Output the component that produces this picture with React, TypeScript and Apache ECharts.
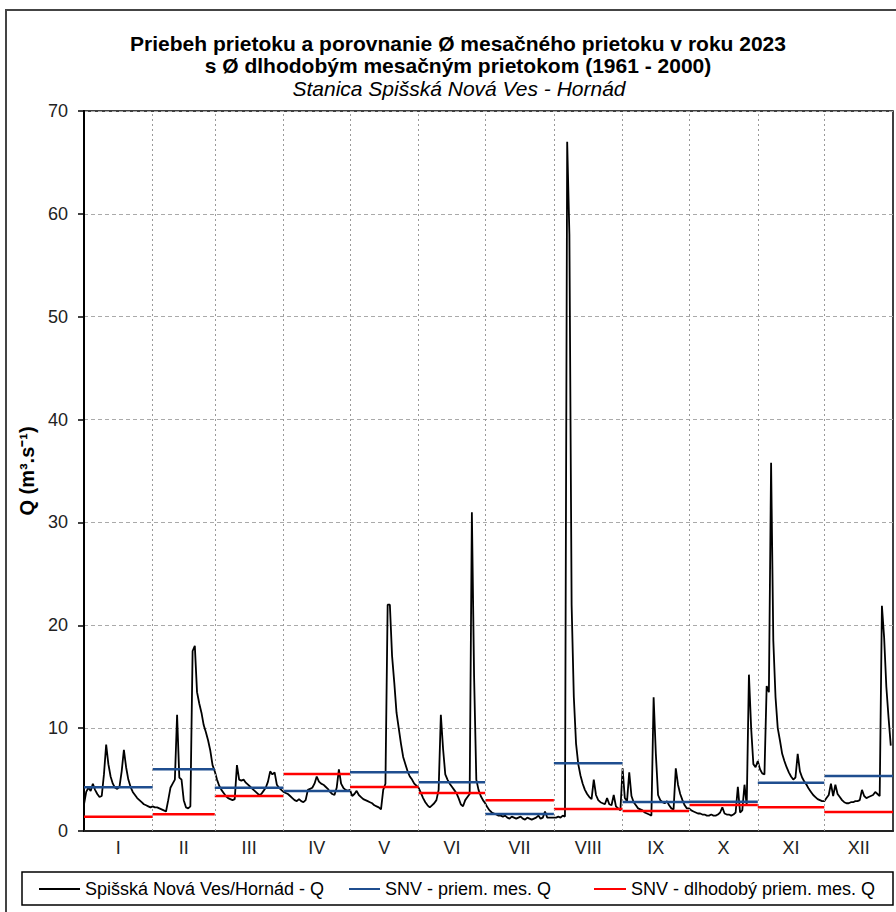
import React, { useEffect, useRef } from "react";
import * as echarts from "echarts";

const FONT = '"Liberation Sans", Arial, Helvetica, sans-serif';

const monthLabels = ["I", "II", "III", "IV", "V", "VI", "VII", "VIII", "IX", "X", "XI", "XII"];
const monthDays = [31, 28, 31, 30, 31, 30, 31, 31, 30, 31, 30, 31];

// Monthly mean discharge 2023 (blue) and long-term monthly mean 1961-2000 (red)
const meanMonthly2023 = [4.25, 6.0, 4.2, 3.9, 5.7, 4.75, 1.65, 6.58, 2.82, 2.85, 4.7, 5.35];
const longTermMonthly = [1.39, 1.62, 3.4, 5.54, 4.28, 3.69, 2.98, 2.14, 1.94, 2.53, 2.3, 1.85];

// Daily discharge Q (m3/s), 2023
const qJan = [2.6, 3.8, 4.2, 3.9, 4.6, 4.0, 3.6, 3.3, 3.4, 5.5, 8.4, 6.5, 5.3, 4.6, 4.2, 4.1, 4.3, 5.8, 7.9, 6.2, 5.0, 4.3, 3.8, 3.5, 3.2, 3.0, 2.8, 2.6, 2.5, 2.4, 2.3];
const qFeb = [2.4, 2.3, 2.3, 2.2, 2.1, 2.0, 1.9, 3.0, 4.2, 4.6, 5.0, 11.3, 5.2, 5.0, 3.0, 2.3, 2.2, 2.4, 17.5, 18.0, 13.5, 12.4, 11.5, 10.3, 9.6, 8.8, 7.8, 6.4];
const qMar = [5.8, 5.0, 4.4, 4.0, 3.7, 3.4, 3.2, 3.1, 3.0, 3.1, 6.4, 5.0, 4.9, 5.0, 4.7, 4.5, 4.3, 4.1, 3.9, 3.7, 3.5, 3.6, 3.9, 4.2, 4.8, 5.8, 5.5, 5.7, 4.5, 4.2, 4.0];
const qApr = [3.8, 3.7, 3.6, 3.4, 3.2, 3.0, 2.9, 3.1, 2.9, 2.8, 3.0, 4.0, 4.1, 4.2, 4.6, 5.3, 4.8, 4.6, 4.5, 4.3, 4.1, 3.8, 3.6, 3.5, 4.2, 6.0, 4.6, 4.2, 4.0, 3.9];
const qMay = [4.0, 3.4, 3.6, 3.9, 3.5, 3.3, 3.1, 3.0, 2.9, 2.8, 2.7, 2.5, 2.4, 2.3, 2.1, 4.0, 4.6, 22.0, 22.0, 17.0, 14.4, 11.5, 10.0, 8.5, 7.2, 6.5, 5.8, 5.3, 5.0, 4.6, 4.4];
const qJun = [4.2, 3.7, 3.2, 2.8, 2.5, 2.3, 2.5, 2.7, 3.0, 4.0, 11.3, 8.0, 5.5, 5.0, 4.6, 4.3, 4.0, 3.7, 3.2, 2.6, 2.4, 3.0, 3.3, 3.6, 31.0, 15.0, 5.0, 4.0, 3.4, 3.0];
const qJul = [2.7, 2.3, 2.0, 1.8, 1.7, 1.6, 1.5, 1.5, 1.4, 1.5, 1.3, 1.2, 1.4, 1.3, 1.2, 1.3, 1.4, 1.2, 1.1, 1.3, 1.2, 1.1, 1.2, 1.3, 1.5, 1.2, 1.3, 1.9, 1.3, 1.3, 1.3];
const qAug = [1.3, 1.3, 1.4, 1.3, 1.5, 1.4, 67.0, 58.0, 22.0, 13.0, 8.5, 6.5, 5.4, 4.6, 4.0, 3.6, 3.3, 3.1, 5.0, 3.5, 3.0, 2.8, 2.7, 2.6, 3.2, 2.6, 2.5, 3.5, 2.4, 2.2, 2.0];
const qSep = [6.1, 3.2, 2.9, 5.7, 3.4, 2.8, 2.5, 2.2, 2.1, 2.0, 1.8, 1.7, 1.6, 1.5, 13.0, 7.5, 3.5, 3.0, 2.8, 2.7, 2.9, 2.5, 2.2, 2.1, 6.1, 4.5, 3.6, 3.0, 2.5, 2.2];
const qOct = [2.2, 2.0, 1.9, 1.8, 1.7, 1.7, 1.6, 1.6, 1.5, 1.5, 1.6, 1.5, 1.5, 1.6, 1.8, 2.3, 1.7, 1.6, 1.6, 1.5, 1.6, 1.8, 4.3, 1.8, 2.0, 4.5, 2.5, 15.2, 10.0, 6.5, 6.2];
const qNov = [6.8, 6.0, 5.6, 5.5, 14.1, 13.5, 35.8, 18.5, 13.0, 10.0, 8.8, 7.5, 6.8, 6.2, 5.7, 5.3, 5.0, 5.2, 7.5, 5.8, 5.2, 4.8, 4.5, 4.1, 3.8, 3.5, 3.3, 3.1, 3.0, 2.9];
const qDec = [2.9, 3.2, 3.5, 4.6, 3.4, 4.5, 3.6, 3.3, 3.0, 2.8, 2.7, 2.7, 2.8, 2.8, 2.9, 2.9, 3.0, 4.0, 3.4, 3.2, 3.3, 3.4, 3.5, 3.8, 3.6, 3.4, 21.9, 18.8, 14.0, 11.0, 8.3];

const yMin = 0;
const yMax = 70;
const yInterval = 10;

const SERIES_Q = "Spišská Nová Ves/Hornád - Q";
const SERIES_MEAN = "SNV - priem. mes. Q";
const SERIES_LT = "SNV - dlhodobý priem. mes. Q";

const titleLine1 = "Priebeh prietoku a porovnanie Ø mesačného prietoku v roku 2023";
const titleLine2 = "s Ø dlhodobým mesačným prietokom (1961 - 2000)";
const titleLine3 = "Stanica Spišská Nová Ves - Hornád";
const yAxisName = "Q (m³.s⁻¹)";

export default function App() {
  const ref = useRef<HTMLDivElement>(null);

  useEffect(() => {
    if (!ref.current) return;
    const chart = echarts.init(ref.current, null, { renderer: "svg" });

    const daily = [
      ...qJan, ...qFeb, ...qMar, ...qApr, ...qMay, ...qJun,
      ...qJul, ...qAug, ...qSep, ...qOct, ...qNov, ...qDec,
    ];
    const starts: number[] = [];
    let acc = 0;
    monthDays.forEach((d) => {
      starts.push(acc);
      acc += d;
    });
    const total = acc;
    const mids = starts.map((s, i) => s + monthDays[i] / 2);
    const boundaries = starts.slice(1);

    const stepData = (vals: number[]) => {
      const out: any[] = [];
      vals.forEach((v, i) => {
        out.push([starts[i], v]);
        out.push([starts[i] + monthDays[i], v]);
        out.push([starts[i] + monthDays[i], "-"]);
      });
      return out;
    };

    const legendBase = {
      top: 880,
      padding: 0,
      icon: "rect",
      itemHeight: 2,
      textStyle: { fontSize: 18, color: "#000", fontFamily: FONT },
    };

    const titleStyle = (text: string, extra: any) => ({
      text,
      fill: "#000",
      fontSize: 21,
      fontFamily: FONT,
      align: "center",
      verticalAlign: "middle",
      textAlign: "center",
      textVerticalAlign: "middle",
      ...extra,
    });

    const option: any = {
      animation: false,
      backgroundColor: "#fff",
      textStyle: { fontFamily: FONT },
      grid: {
        show: true,
        left: 84,
        right: 3,
        top: 111,
        bottom: 81,
        borderColor: "#000",
        borderWidth: 1.5,
        backgroundColor: "transparent",
      },
      xAxis: {
        type: "value",
        min: 0,
        max: total,
        axisLine: { show: true, onZero: false, lineStyle: { color: "#222", width: 2 } },
        axisTick: { show: false },
        splitLine: { show: false },
        axisLabel: {
          customValues: mids,
          fontSize: 18,
          color: "#222",
          fontFamily: FONT,
          margin: 8,
          formatter: (val: number) => {
            let best = 0;
            mids.forEach((m, i) => {
              if (Math.abs(m - val) < Math.abs(mids[best] - val)) best = i;
            });
            return monthLabels[best];
          },
        },
      },
      yAxis: {
        type: "value",
        min: yMin,
        max: yMax,
        interval: yInterval,
        name: yAxisName,
        nameLocation: "middle",
        nameGap: 43,
        nameTextStyle: { fontSize: 20, fontWeight: "bold", color: "#000", fontFamily: FONT },
        axisLine: { show: true, lineStyle: { color: "#000", width: 2 } },
        axisTick: { show: true, length: 6, lineStyle: { color: "#000", width: 1.5 } },
        axisLabel: { fontSize: 18, color: "#222", fontFamily: FONT, margin: 16 },
        splitLine: { show: true, lineStyle: { color: "#aaa", width: 1, type: [4, 3] } },
      },
      legend: [
        { ...legendBase, left: 39, itemWidth: 41, data: [SERIES_Q] },
        { ...legendBase, left: 349, itemWidth: 31, data: [SERIES_MEAN] },
        { ...legendBase, left: 594, itemWidth: 32, data: [SERIES_LT] },
      ],
      graphic: [
        {
          type: "rect",
          silent: true,
          z: -10,
          shape: { x: 6, y: 10, width: 920, height: 920 },
          style: { fill: "none", stroke: "#444", lineWidth: 2 },
        },
        {
          type: "rect",
          silent: true,
          shape: { x: 22, y: 872, width: 871, height: 33 },
          style: { fill: "none", stroke: "#000", lineWidth: 1.5 },
        },
        { type: "text", x: 458, y: 43, style: titleStyle(titleLine1, { fontWeight: "bold" }) },
        { type: "text", x: 458, y: 65, style: titleStyle(titleLine2, { fontWeight: "bold" }) },
        { type: "text", x: 459, y: 88, style: titleStyle(titleLine3, { fontStyle: "italic" }) },
      ],
      series: [
        {
          name: "monthGrid",
          type: "line",
          data: [],
          z: 1,
          silent: true,
          markLine: {
            silent: true,
            symbol: ["none", "none"],
            label: { show: false },
            lineStyle: { color: "#999", width: 1, type: [2, 3] },
            data: boundaries.map((b) => ({ xAxis: b })),
          },
        },
        {
          name: SERIES_Q,
          type: "line",
          color: "#000",
          data: daily.map((v, i) => [i, v]),
          showSymbol: false,
          symbol: "none",
          z: 3,
          lineStyle: { color: "#000", width: 1.8 },
          itemStyle: { color: "#000" },
        },
        {
          name: SERIES_MEAN,
          type: "line",
          color: "#1F4E8F",
          data: stepData(meanMonthly2023),
          showSymbol: false,
          symbol: "none",
          connectNulls: false,
          z: 4,
          lineStyle: { color: "#1F4E8F", width: 2.5 },
          itemStyle: { color: "#1F4E8F" },
        },
        {
          name: SERIES_LT,
          type: "line",
          color: "#FF0000",
          data: stepData(longTermMonthly),
          showSymbol: false,
          symbol: "none",
          connectNulls: false,
          z: 4,
          lineStyle: { color: "#FF0000", width: 2.5 },
          itemStyle: { color: "#FF0000" },
        },
      ],
    };

    chart.setOption(option);
    return () => {
      chart.dispose();
    };
  }, []);

  return (
    <div
      ref={ref}
      style={{ position: "absolute", left: 0, top: 0, width: 896, height: 912, background: "#fff" }}
    />
  );
}
